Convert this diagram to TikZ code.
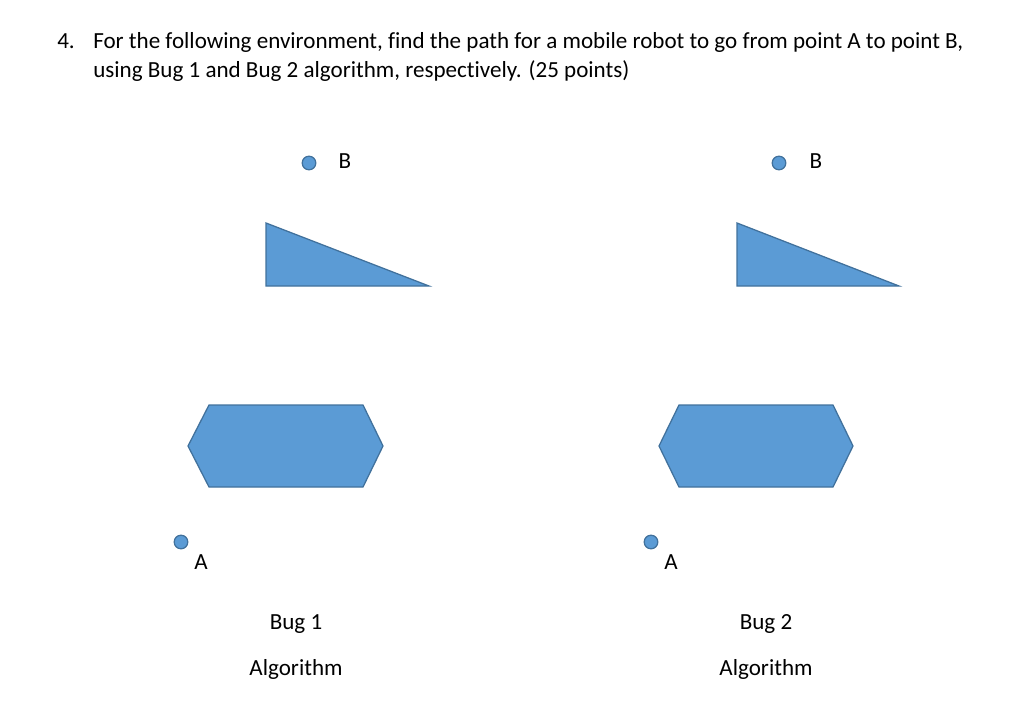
\documentclass[tikz,border=0pt]{standalone}
\usepackage{fontspec}
\setmainfont{Carlito}[Ligatures=NoCommon]
\usetikzlibrary{positioning}

\definecolor{shapefill}{HTML}{5B9BD5}
\definecolor{shapeline}{HTML}{41719C}

\begin{document}
\begin{tikzpicture}[
  x=0.025cm, y=-0.025cm,
  font=\fontsize{16.4}{19.5}\selectfont,
  obstacle/.style={
    draw=shapeline,
    fill=shapefill,
    line width=0.9pt,
    line join=miter
  },
  point/.style={
    circle,
    draw=shapeline,
    fill=shapefill,
    line width=0.9pt,
    minimum size=0.34cm,
    inner sep=0pt
  },
  label/.style={
    anchor=base,
    inner sep=0pt
  },
  title/.style={
    anchor=base west,
    inner sep=0pt
  }
]

\useasboundingbox (0,0) rectangle (1024,721);

\node[title] (number) at (57,49) {4.};
\node[title] (lineOne) at (93,49)
  {For the following environment, find the path for a mobile robot to go from point A to point B,};
\node[title] (lineTwo) at (93,78)
  {using Bug 1 and Bug 2 algorithm, respectively. (25 points)};

% Bug 1 environment
\node[point] (goalOne) at (309,163) {};
\node[label] (goalOneText) at (345,169) {B};
\draw[obstacle] (266,223) -- (266,286) -- (429,286) -- cycle;
\draw[obstacle] (209,405) -- (363,405) -- (383,446) -- (363,487)
  -- (209,487) -- (188,446) -- cycle;
\node[point] (startOne) at (181,542) {};
\node[label] (startOneText) at (201,569) {A};
\node[label] (bugOne) at (296,629) {Bug 1};
\node[label] (algOne) at (296,675) {Algorithm};

% Bug 2 environment
\node[point] (goalTwo) at (779,163) {};
\node[label] (goalTwoText) at (816,169) {B};
\draw[obstacle] (737,223) -- (737,286) -- (899,286) -- cycle;
\draw[obstacle] (679,405) -- (833,405) -- (853,446) -- (833,487)
  -- (679,487) -- (659,446) -- cycle;
\node[point] (startTwo) at (651,542) {};
\node[label] (startTwoText) at (671,569) {A};
\node[label] (bugTwo) at (766,629) {Bug 2};
\node[label] (algTwo) at (766,675) {Algorithm};

\end{tikzpicture}
\end{document}
